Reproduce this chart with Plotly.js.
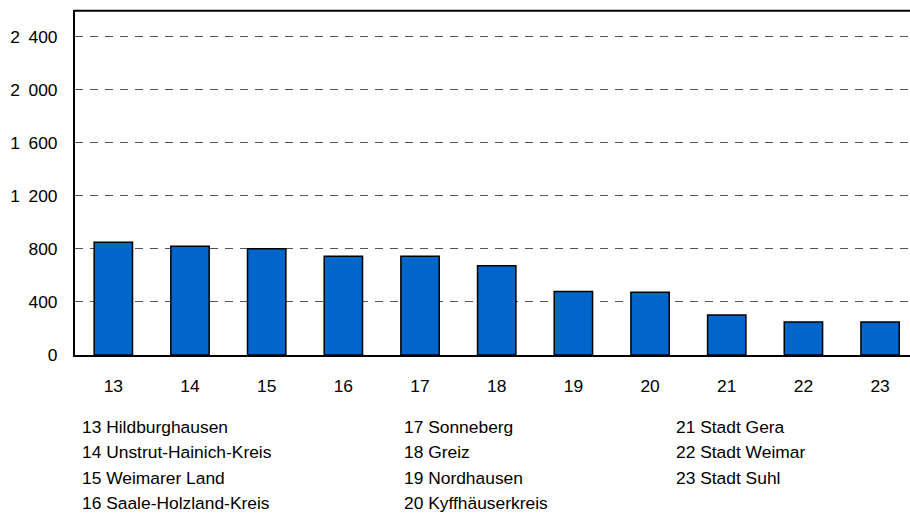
<!DOCTYPE html>
<html>
<head>
<meta charset="utf-8">
<script src="https://cdn.plot.ly/plotly-3.0.1.min.js"></script>
<style>html,body{margin:0;padding:0;background:#fff;}#chart{width:910px;height:515px;}</style>
</head>
<body>
<div id="chart"></div>
<script>
// Data
const categories = ["13","14","15","16","17","18","19","20","21","22","23"];
const values = [850, 820, 800, 745, 745, 673, 478, 473, 302, 248, 248];
const regionNames = ["Hildburghausen","Unstrut-Hainich-Kreis","Weimarer Land","Saale-Holzland-Kreis","Sonneberg","Greiz","Nordhausen","Kyffhäuserkreis","Stadt Gera","Stadt Weimar","Stadt Suhl"];
const yTickVals = [0, 400, 800, 1200, 1600, 2000, 2400];
const yTickText = ["0", "400", "800", "1\u2002200", "1\u2002600", "2\u2002000", "2\u2002400"];

const FONT = "Liberation Sans, Arial, sans-serif";

const trace = {
  type: "bar",
  x: categories,
  y: values,
  marker: {color: "#0066CC", line: {color: "#000000", width: 1.5}},
  hoverinfo: "skip"
};

const colX = [4.5, 326.5, 598.5];
const colOf = i => (i < 4 ? 0 : (i < 8 ? 1 : 2));
const rowOf = i => (i < 4 ? i : (i < 8 ? i - 4 : i - 8));
const annotations = categories.map((c, i) => ({
  text: c + " " + regionNames[i],
  xref: "paper", yref: "paper",
  x: 0, y: 0,
  xanchor: "left", yanchor: "middle",
  xshift: colX[colOf(i)],
  yshift: -72 - 25.3 * rowOf(i),
  showarrow: false,
  font: {family: FONT, size: 17.4, color: "#000"}
}));

const layout = {
  width: 910, height: 515,
  margin: {l: 75, r: 0, t: 10, b: 160, pad: 0},
  paper_bgcolor: "#fff", plot_bgcolor: "#fff",
  showlegend: false,
  bargap: 0.5,
  font: {family: FONT, size: 17.4, color: "#000"},
  xaxis: {
    type: "category",
    range: [-0.5, 10.39],
    showgrid: false,
    showline: true, linecolor: "#000", linewidth: 2,
    ticks: "outside", ticklen: 14, tickcolor: "rgba(0,0,0,0)",
    tickfont: {family: FONT, size: 17.4, color: "#000"},
    zeroline: false, fixedrange: true
  },
  yaxis: {
    range: [0, 2600],
    tickvals: yTickVals, ticktext: yTickText,
    showgrid: true, gridcolor: "#555555", gridwidth: 1, griddash: "8px,7px",
    showline: true, linecolor: "#000", linewidth: 2,
    ticks: "outside", ticklen: 12, tickcolor: "rgba(0,0,0,0)",
    tickfont: {family: FONT, size: 17.4, color: "#000"},
    zeroline: false, fixedrange: true
  },
  shapes: [{
    type: "line", xref: "paper", yref: "paper", layer: "above",
    x0: -0.001, x1: 1, y0: 0.998, y1: 0.998,
    line: {color: "#000000", width: 2}
  }],
  annotations: annotations
};

Plotly.newPlot("chart", [trace], layout, {displayModeBar: false, staticPlot: true});
</script>
</body>
</html>
